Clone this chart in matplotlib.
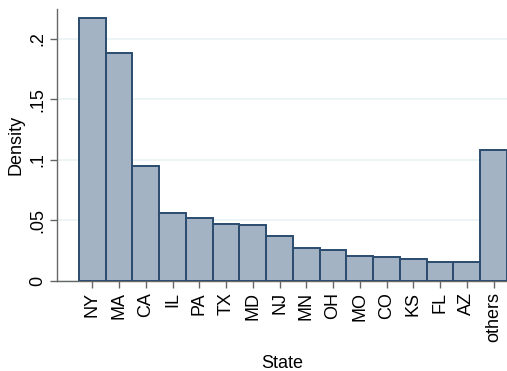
import matplotlib
matplotlib.use("Agg")
import matplotlib.pyplot as plt
from matplotlib.ticker import FixedLocator

states = ["NY", "MA", "CA", "IL", "PA", "TX", "MD", "NJ", "MN", "OH",
          "MO", "CO", "KS", "FL", "AZ", "others"]
density = [0.2167, 0.1880, 0.0949, 0.0565, 0.0521, 0.0472, 0.0463, 0.0368,
           0.0272, 0.0253, 0.0208, 0.0200, 0.0179, 0.0159, 0.0154, 0.1084]
yticks = [0, 0.05, 0.10, 0.15, 0.20]
yticklabels = ["0", ".05", ".1", ".15", ".2"]

plt.rcParams["font.family"] = ["Liberation Sans", "DejaVu Sans"]

fig = plt.figure(figsize=(5.07, 3.71), dpi=100)
ax = fig.add_axes([0.1124, 0.2426, 0.8876, 0.7324])

x = list(range(1, len(states) + 1))
ax.bar(x, density, width=1.0, color="#a3b3c3", edgecolor="#2b4c6f",
       linewidth=1.4, zorder=3)

ax.set_xlim(-0.32, 16.5)
ax.set_ylim(0, 0.2243)

ax.yaxis.set_major_locator(FixedLocator(yticks))
ax.set_yticklabels(yticklabels, rotation=90, va="center", fontsize=13)
ax.set_xticks(x)
ax.set_xticklabels(states, rotation=90, fontsize=13)

ax.grid(axis="y", color="#eaf2f3", linewidth=1.2, zorder=0)
ax.set_axisbelow(True)

for side in ("top", "right"):
    ax.spines[side].set_visible(False)
for side in ("left", "bottom"):
    ax.spines[side].set_color("#666666")
    ax.spines[side].set_linewidth(1.0)

ax.tick_params(axis="both", color="#666666", length=5, width=1.0,
               labelcolor="black", pad=3)

ax.set_ylabel("Density", fontsize=13, labelpad=3)
ax.set_xlabel("State", fontsize=13, labelpad=9)

fig.savefig("out.png", dpi=100)
